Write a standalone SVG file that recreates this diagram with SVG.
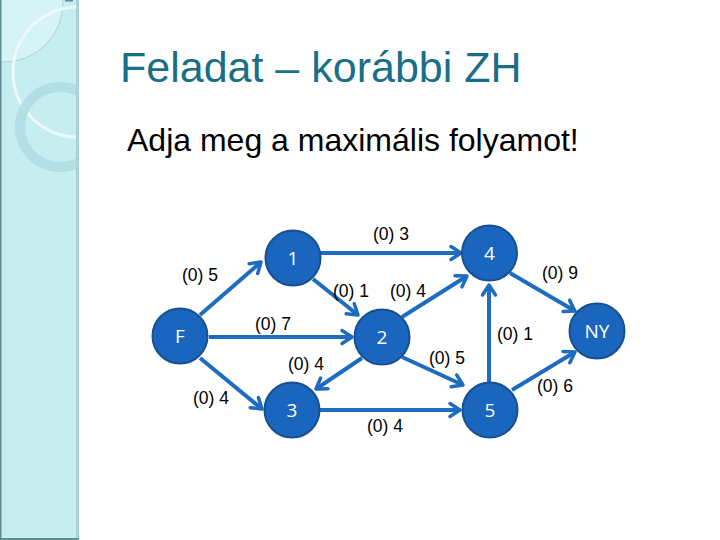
<svg xmlns="http://www.w3.org/2000/svg" width="720" height="540" viewBox="0 0 720 540">
<style>
.title{font-family:"Liberation Sans",Arial,sans-serif;font-size:43px;fill:#1A6F87}
.sub{font-family:"Liberation Sans",Arial,sans-serif;font-size:32px;fill:#000}
.node circle{fill:#1A66BE;stroke:#17508F;stroke-width:2}
.node text{font-family:"Open Sans","Liberation Sans",sans-serif;font-size:19px;fill:#fff;text-anchor:middle}
.edge{stroke:#1E6CC0;stroke-width:4;fill:none;marker-end:url(#ah)}
.lbl{font-family:"Liberation Sans",Arial,sans-serif;font-size:17.5px;fill:#000;text-anchor:middle}
</style>
<defs>
<marker id="ah" markerUnits="userSpaceOnUse" viewBox="-14 -10 18 20" markerWidth="18" markerHeight="20" refX="0" refY="0" orient="auto">
<path d="M-10,-6.5 L0,0 L-10,6.5" fill="none" stroke="#1E6CC0" stroke-width="3.5" stroke-linecap="round" stroke-linejoin="round"/>
</marker>
<clipPath id="sb"><rect x="0" y="0" width="77" height="540"/></clipPath>
</defs>
<rect width="720" height="540" fill="#fff"/>
<g id="sidebar">
<rect x="0" y="0" width="77" height="540" fill="#C6EEF1"/>
<g clip-path="url(#sb)">
<circle cx="4" cy="3" r="59" fill="#D6F3F5" stroke="#9CCBD0" stroke-width="0.8"/>
<circle cx="78" cy="72" r="65" fill="none" stroke="#EEFCFD" stroke-width="3" opacity="0.9"/>
<circle cx="60" cy="127" r="40" fill="none" stroke="#AFDAE1" stroke-width="10" opacity="0.85"/>
</g>
<rect x="76" y="0" width="3" height="540" fill="#A9D3D6"/>
<rect x="0" y="0" width="1.5" height="540" fill="#5F8E90"/>
<rect x="0" y="538" width="79" height="2" fill="#5F8E90"/>
<rect x="65" y="0" width="8" height="1.5" fill="#5F8E90"/>
</g>
<text class="title" x="120" y="82">Feladat – korábbi ZH</text>
<text class="sub" x="127" y="151">Adja meg a maximális folyamot!</text>
<g id="connectors">
<line class="edge" x1="200" y1="315" x2="261" y2="262"/>
<line class="edge" x1="320" y1="253" x2="461" y2="253"/>
<line class="edge" x1="313" y1="279" x2="358" y2="315"/>
<line class="edge" x1="209" y1="337" x2="352" y2="337"/>
<line class="edge" x1="402" y1="317" x2="467" y2="276"/>
<line class="edge" x1="362" y1="358" x2="316" y2="389"/>
<line class="edge" x1="200" y1="358" x2="262" y2="409"/>
<line class="edge" x1="320" y1="410" x2="460" y2="410"/>
<line class="edge" x1="402" y1="357" x2="463" y2="385"/>
<line class="edge" x1="489" y1="383" x2="489" y2="285"/>
<line class="edge" x1="510" y1="273" x2="575" y2="311"/>
<line class="edge" x1="512" y1="390" x2="575" y2="352"/>
</g>
<g id="labels">
<text class="lbl" x="391" y="240">(0) 3</text>
<text class="lbl" x="200" y="281">(0) 5</text>
<text class="lbl" x="351" y="297">(0) 1</text>
<text class="lbl" x="408" y="297">(0) 4</text>
<text class="lbl" x="273" y="330">(0) 7</text>
<text class="lbl" x="306" y="370">(0) 4</text>
<text class="lbl" x="211" y="404">(0) 4</text>
<text class="lbl" x="385" y="432">(0) 4</text>
<text class="lbl" x="560" y="279">(0) 9</text>
<text class="lbl" x="515" y="340">(0) 1</text>
<text class="lbl" x="447" y="364">(0) 5</text>
<text class="lbl" x="555" y="392">(0) 6</text>
</g>
<g id="node-F" class="node"><circle cx="180" cy="336" r="27.5"/><text x="180" y="343">F</text></g>
<g id="node-1" class="node"><circle cx="293" cy="258" r="27.5"/><text x="293" y="265">1</text></g>
<g id="node-2" class="node"><circle cx="382" cy="337" r="27.5"/><text x="382" y="344">2</text></g>
<g id="node-3" class="node"><circle cx="292" cy="410" r="27.5"/><text x="292" y="417">3</text></g>
<g id="node-4" class="node"><circle cx="489.5" cy="253" r="27.5"/><text x="489.5" y="260">4</text></g>
<g id="node-5" class="node"><circle cx="490" cy="410" r="27.5"/><text x="490" y="417">5</text></g>
<g id="node-NY" class="node"><circle cx="597" cy="331" r="27.5"/><text x="597" y="338">NY</text></g>
</svg>
